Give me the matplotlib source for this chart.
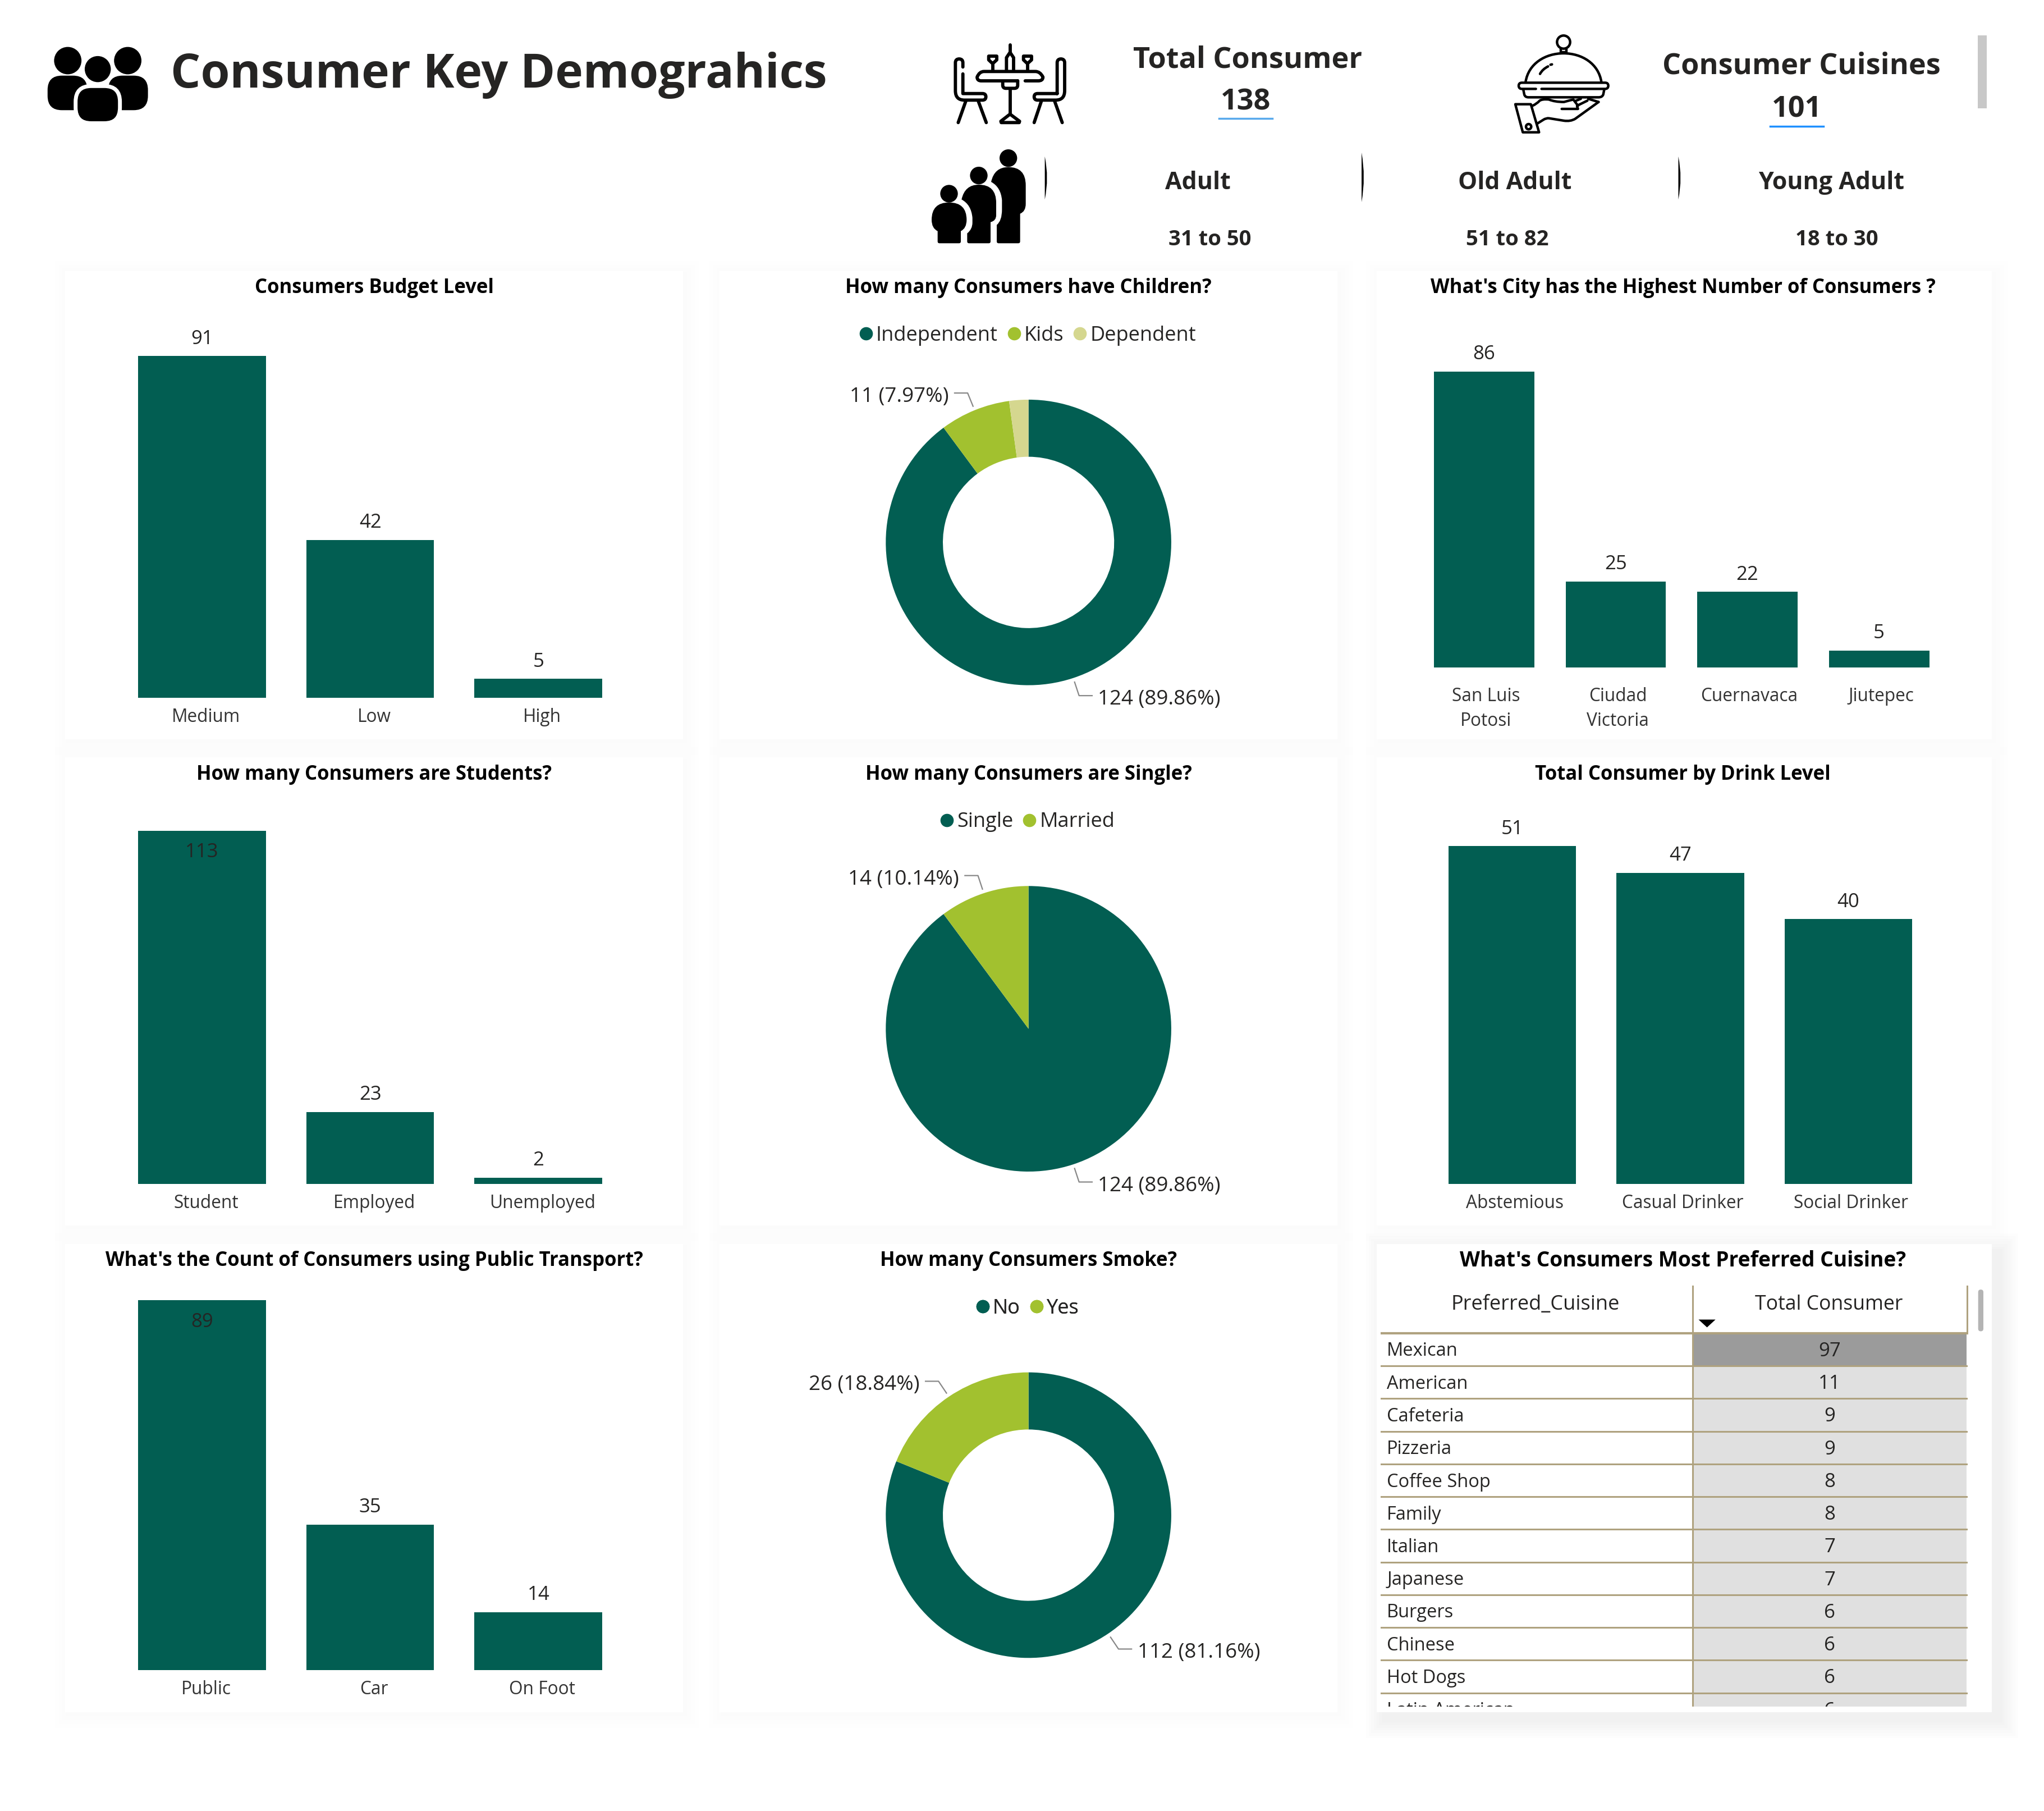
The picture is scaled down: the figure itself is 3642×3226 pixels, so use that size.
import matplotlib
matplotlib.use("Agg")
import matplotlib.pyplot as plt
import numpy as np
from matplotlib.lines import Line2D
from matplotlib.path import Path
from matplotlib.patches import Rectangle, Circle, FancyBboxPatch, Polygon, PathPatch

plt.rcParams['font.family'] = ['Open Sans', 'Noto Sans', 'DejaVu Sans']

# chart data
budget_cats = ["Medium", "Low", "High"]
budget_vals = [91, 42, 5]
student_cats = ["Student", "Employed", "Unemployed"]
student_vals = [113, 23, 2]
transport_cats = ["Public", "Car", "On Foot"]
transport_vals = [89, 35, 14]
city_cats = ["San Luis\nPotosi", "Ciudad\nVictoria", "Cuernavaca", "Jiutepec"]
city_vals = [86, 25, 22, 5]
drink_cats = ["Abstemious", "Casual Drinker", "Social Drinker"]
drink_vals = [51, 47, 40]
children_cats = ["Independent", "Kids", "Dependent"]
children_vals = [124, 11, 3]
single_cats = ["Single", "Married"]
single_vals = [124, 14]
smoke_cats = ["No", "Yes"]
smoke_vals = [112, 26]
cuisine_cats = ["Mexican", "American", "Cafeteria", "Pizzeria", "Coffee Shop", "Family",
                "Italian", "Japanese", "Burgers", "Chinese", "Hot Dogs", "Latin American"]
cuisine_vals = [97, 11, 9, 9, 8, 8, 7, 7, 6, 6, 6, 6]

TEAL = "#025E52"
LIME = "#A2C12F"
PALE = "#D5D78F"
DARK = "#252423"
TAN = "#AFA27F"

PX = 3642
PY = 3226
W = 1568.0  # layout units across the picture
H = W * PY / PX
fig = plt.figure(figsize=(PX / 100, PY / 100), dpi=100, facecolor="white")
bg = fig.add_axes([0, 0, 1, 1], zorder=0)
bg.set_xlim(0, W)
bg.set_ylim(H, 0)
bg.axis("off")


def place_axes(x0, y0, x1, y1, zorder=2):
    ax = fig.add_axes([x0 / W, 1 - y1 / H, (x1 - x0) / W, (y1 - y0) / H], zorder=zorder)
    ax.patch.set_alpha(0)
    return ax


def card(x0, y0, x1, y1, title, title_x=None, strong=False, title_size=25):
    # soft shadow first, then the white card on top
    off = 6 if strong else 2
    alpha = 0.008 if strong else 0.004
    pads = range(14, 0, -2) if strong else range(10, 0, -3)
    for pad in pads:
        bg.add_patch(Rectangle((x0 - pad + off, y0 - pad + off), x1 - x0 + 2 * pad, y1 - y0 + 2 * pad,
                               fc="black", ec="none", alpha=alpha))
    bg.add_patch(Rectangle((x0, y0), x1 - x0, y1 - y0, fc="white", ec="none"))
    cx = (x0 + x1) / 2 if title_x is None else title_x
    bg.text(cx, y0 + 13, title, ha="center", va="center", fontsize=title_size, fontweight="bold", color="black")


def bar_panel(cats, vals, first_center, step, bar_w, baseline, unit, top, tick_dx, tick_pad, inside=False):
    n = len(cats)
    ax = place_axes(first_center - step / 2, top, first_center + (n - 0.5) * step, baseline)
    x = np.arange(n)
    ax.bar(x, vals, width=bar_w / step, color=TEAL)
    ax.set_xlim(-0.5, n - 0.5)
    ax.set_ylim(0, (baseline - top) / unit)
    ax.set_yticks([])
    ax.set_xticks(x + tick_dx / step)
    ax.set_xticklabels(cats, fontsize=22.8, color="#333333", linespacing=1.45)
    ax.tick_params(axis="x", length=0, pad=tick_pad)
    for s in ax.spines.values():
        s.set_visible(False)
    for i, v in enumerate(vals):
        off = 22
        if inside and i == 0:
            off = -28
        ax.annotate(str(v), (i, v), xytext=(0, off), textcoords="offset points",
                    ha="center", va="center", fontsize=25, color="#252423", annotation_clip=False)
    return ax


def pie_panel(cats, vals, colors, cy, donut, labelled, legend_y):
    r = 109.5
    cx = 789
    lim = 1.5
    ax = place_axes(cx - lim * r, cy - lim * r, cx + lim * r, cy + lim * r)
    props = {"linewidth": 0}
    if donut:
        props["width"] = 0.4
    ax.pie(vals, colors=colors, startangle=90, counterclock=False, radius=1, wedgeprops=props)
    ax.set_xlim(-lim, lim)
    ax.set_ylim(-lim, lim)
    total = sum(vals)
    cum = np.cumsum(vals)
    for idx in labelled:
        end = cum[idx]
        mid = np.deg2rad((end - vals[idx] / 2) / total * 360)
        sx, sy = np.sin(mid), np.cos(mid)
        side = 1 if sx > 0 else -1
        ex, ey = 1.13 * sx, 1.13 * sy
        hx = ex + side * 10 / r
        ax.plot([1.03 * sx, ex, hx], [1.03 * sy, ey, ey], color="#888888", lw=1.6, clip_on=False)
        ax.text(hx + side * 4.5 / r, ey - 3 / r, f"{vals[idx]} ({vals[idx] / total * 100:.2f}%)",
                ha="left" if side > 0 else "right", va="center", fontsize=26.5, color="#252423")
    handles = [Line2D([0], [0], marker="o", ls="none", color=c, markersize=16, label=l)
               for c, l in zip(colors, cats)]
    leg = bg.legend(handles=handles, loc="center", bbox_to_anchor=(783, legend_y + 1.5), bbox_transform=bg.transData,
                    ncol=len(cats), frameon=False, fontsize=26, handletextpad=-0.5, columnspacing=-0.2,
                    labelcolor="#252423")
    bg.add_artist(leg)
    return ax


col_x = [(50, 524), (552, 1026), (1056, 1528)]
row_y = [(208, 567), (581, 940), (954, 1313)]

card(col_x[0][0], row_y[0][0], col_x[0][1], row_y[0][1], "Consumers Budget Level")
card(col_x[1][0], row_y[0][0], col_x[1][1], row_y[0][1], "How many Consumers have Children?")
card(col_x[2][0], row_y[0][0], col_x[2][1], row_y[0][1], "What's City has the Highest Number of Consumers ?", title_x=1291)
card(col_x[0][0], row_y[1][0], col_x[0][1], row_y[1][1], "How many Consumers are Students?")
card(col_x[1][0], row_y[1][0], col_x[1][1], row_y[1][1], "How many Consumers are Single?")
card(col_x[2][0], row_y[1][0], col_x[2][1], row_y[1][1], "Total Consumer by Drink Level", title_x=1291)
card(col_x[0][0], row_y[2][0], col_x[0][1], row_y[2][1], "What's the Count of Consumers using Public Transport?")
card(col_x[1][0], row_y[2][0], col_x[1][1], row_y[2][1], "How many Consumers Smoke?")
card(col_x[2][0], row_y[2][0], col_x[2][1], row_y[2][1], "What's Consumers Most Preferred Cuisine?",
     title_x=1291, strong=True, title_size=26.8)

bar_panel(budget_cats, budget_vals, 155, 129, 98, 535, 262 / 91, 240, 3, 13)
bar_panel(student_cats, student_vals, 155, 129, 98, 908, 271 / 113, 620, 3, 13, inside=True)
bar_panel(transport_cats, transport_vals, 155, 129, 98, 1281, 284 / 89, 985, 3, 13, inside=True)
bar_panel(city_cats, city_vals, 1138.5, 101, 77, 512, 227 / 86, 250, 1.5, 25)
bar_panel(drink_cats, drink_vals, 1160, 129, 98, 908, 259 / 51, 620, 2, 13)

pie_panel(children_cats, children_vals, [TEAL, LIME, PALE], 416, True, [0, 1], 256)
pie_panel(single_cats, single_vals, [TEAL, LIME], 789, False, [0, 1], 629)
pie_panel(smoke_cats, smoke_vals, [TEAL, LIME], 1162, True, [0, 1], 1002)

# cuisine table, drawn in layout units so the last row clips like the report
tab = place_axes(1059, 986, 1510, 1309)
tab.set_xlim(1059, 1510)
tab.set_ylim(1309, 986)
tab.axis("off")
row_h = 25.08
head_bottom = 1022.5
split = 1298.5
for i, (name, val) in enumerate(zip(cuisine_cats, cuisine_vals)):
    top = head_bottom + i * row_h
    shade = "#9B9B9B" if val == max(cuisine_vals) else "#E0E0E0"
    tab.add_patch(Rectangle((split, top), 1508.5 - split, row_h, fc=shade, ec="none"))
    tab.plot([1059, 1508.5], [top + row_h, top + row_h], color=TAN, lw=2.2)
    tab.text(1064, top + row_h / 2 + 1.2, name, ha="left", va="center", fontsize=23.5, color="#252423", clip_on=True)
    tab.text(1403.5, top + row_h / 2 + 1.2, str(val), ha="center", va="center", fontsize=25, color="#252423", clip_on=True)
tab.plot([1059, 1509], [head_bottom, head_bottom], color=TAN, lw=3)
tab.plot([split, split], [986, 1309], color=TAN, lw=2.2)
tab.plot([1509, 1509], [986, head_bottom], color=TAN, lw=2.2)
tab.text(1178, 1000.5, "Preferred_Cuisine", ha="center", va="center", fontsize=26, color="#252423")
tab.text(1403, 1000.5, "Total Consumer", ha="center", va="center", fontsize=25.7, color="#252423")
tab.add_patch(Polygon([[1303, 1012], [1316, 1012], [1309.5, 1018]], fc="black", ec="none"))
bg.add_patch(FancyBboxPatch((1517.5, 989), 4, 32, boxstyle="round,pad=0,rounding_size=2", fc="#B4B4B4", ec="none", zorder=3))

# header text
bg.text(131, 57.5, "Consumer Key Demograhics", ha="left", va="center", fontsize=60.5, fontweight="bold", color=DARK)
bg.text(957, 46, "Total Consumer", ha="center", va="center", fontsize=37.5, fontweight="bold", color=DARK)
bg.text(955.5, 78.5, "138", ha="center", va="center", fontsize=37.5, fontweight="bold", color=DARK)
bg.plot([935, 976], [91, 91], color="#58A9EC", lw=2.5)
bg.text(1382, 51, "Consumer Cuisines", ha="center", va="center", fontsize=37.5, fontweight="bold", color=DARK)
bg.text(1378.5, 84, "101", ha="center", va="center", fontsize=37.5, fontweight="bold", color=DARK)
bg.plot([1358, 1399], [97, 97], color="#1E90FF", lw=2.5)
bg.add_patch(Rectangle((1517, 27), 7, 56, fc="#C8C8C8", ec="none"))
for x, label, rng, rng_x in [(919, "Adult", "31 to 50", 928), (1162, "Old Adult", "51 to 82", 1156.5),
                             (1405, "Young Adult", "18 to 30", 1409)]:
    bg.text(x, 140, label, ha="center", va="center", fontsize=31, fontweight="bold", color=DARK)
    bg.text(rng_x, 184, rng, ha="center", va="center", fontsize=27.5, fontweight="bold", color=DARK)


def svg_path(d):
    # small parser for M/L/Q/C/Z strings
    verts, codes = [], []
    tok = d.split()
    i = 0
    n_pts = {"M": (1, Path.MOVETO), "L": (1, Path.LINETO), "Q": (2, Path.CURVE3), "C": (3, Path.CURVE4)}
    while i < len(tok):
        cmd = tok[i]
        i += 1
        if cmd == "Z":
            verts.append(verts[-1])
            codes.append(Path.CLOSEPOLY)
            continue
        cnt, code = n_pts[cmd]
        for _ in range(cnt):
            verts.append((float(tok[i]), float(tok[i + 1])))
            codes.append(code)
            i += 2
    return Path(verts, codes)


def icon_axes(px, py, pw, ph):
    # crop in reference pixels; inside it coordinates are 3 units per pixel
    sc = W / PX
    ax = place_axes(px * sc, py * sc, (px + pw) * sc, (py + ph) * sc, zorder=3)
    ax.set_xlim(0, pw * 3)
    ax.set_ylim(ph * 3, 0)
    ax.axis("off")
    return ax


def line(ax, d, lw=4.2):
    ax.add_patch(PathPatch(svg_path(d), fc="none", ec="black", lw=lw, capstyle="round", joinstyle="round"))


def solid(ax, d):
    ax.add_patch(PathPatch(svg_path(d), fc="black", ec="none"))


# separators between the age cards: thin lens shapes
for x, y0, y1 in [(801.5, 120, 153), (1044.5, 117, 155), (1287.5, 120, 153)]:
    bg.add_patch(PathPatch(svg_path(f"M {x} {y0} Q {x + 3.4} {(y0 + y1) / 2} {x} {y1} Z"), fc="black", ec="none"))


# title icon: three people
def person(cx, cy, r, x0, x1, y0, y1, rounding=10, edge=0):
    bg.add_patch(FancyBboxPatch((x0, y0), x1 - x0, y1 - y0, boxstyle=f"round,pad=0,rounding_size={rounding}",
                                fc="black", ec="white", lw=edge, zorder=3))
    bg.add_patch(Circle((cx, cy), r, fc="black", ec="white", lw=edge, zorder=3))


person(52, 46.5, 10.5, 36.5, 67, 58, 84.5, rounding=11)
person(98, 46.5, 10.5, 83, 113.5, 58, 84.5, rounding=11)
person(75, 53, 11.5, 58, 92, 66, 94.5, rounding=12, edge=5)

# family icon
fam = icon_axes(1640, 250, 240, 200)
for cx, cy in [(470, 95), (312, 188), (153, 285)]:
    fam.add_patch(Circle((cx, cy), 47, fc="black", ec="none"))
solid(fam, "M 378 222 Q 395 143 470 143 Q 563 143 563 240 L 563 340 Q 563 380 533 392 L 533 540 Q 533 550 523 550 "
           "L 418 550 Q 408 550 408 540 L 408 452 Q 436 430 436 370 L 436 320 Q 430 250 378 222 Z")
solid(fam, "M 220 316 Q 237 237 312 237 Q 405 237 405 334 L 405 400 Q 405 430 375 437 L 375 540 Q 375 550 365 550 "
           "L 260 550 Q 250 550 250 540 L 250 497 Q 278 475 278 440 L 278 414 Q 272 344 220 316 Z")
solid(fam, "M 60 425 Q 60 332 153 332 Q 247 332 247 425 Q 247 470 216 485 L 216 540 Q 216 550 206 550 "
           "L 102 550 Q 92 550 92 540 L 92 485 Q 60 470 60 425 Z")

# table and chairs icon
din = icon_axes(1680, 50, 260, 200)
line(din, "M 107 208 L 107 185 Q 107 165 87 165 Q 67 165 67 185 L 67 335 Q 67 385 115 385 L 212 385 "
          "Q 230 385 230 367 Q 230 350 212 350 L 107 350 L 107 245")
line(din, "M 611 350 L 611 185 Q 611 165 631 165 Q 651 165 651 185 L 651 335 Q 651 385 603 385 L 506 385 "
          "Q 488 385 488 367 Q 488 350 506 350 L 611 350")
for d in ["M 122 392 L 82 505", "M 190 392 L 232 505", "M 526 392 L 488 505", "M 598 392 L 638 505",
          "M 359 325 L 359 460", "M 266 190 L 266 232", "M 452 190 L 452 232", "M 359 90 L 359 130"]:
    line(din, d)
line(din, "M 440 282 L 510 282 Q 535 282 535 262 Q 520 232 495 232 L 220 232 Q 195 232 183 262 Q 183 282 205 282 L 400 282")
line(din, "M 320 285 L 320 305 Q 320 322 337 322 L 383 322 Q 400 322 400 305 L 400 282")
line(din, "M 359 460 L 310 498 L 312 505 L 408 505 L 410 498 Z")
line(din, "M 340 228 L 340 158 L 359 130 L 378 158 L 378 228")
line(din, "M 245 150 L 288 150 L 288 170 L 266 190 L 245 170 Z")
line(din, "M 431 150 L 474 150 L 474 170 L 452 190 L 431 170 Z")

# cloche on a hand icon
clo = icon_axes(2680, 40, 240, 220)
clo.add_patch(Circle((318, 105), 35, fc="none", ec="black", lw=3.2))
thin = 3.2
line(clo, "M 303 142 L 303 160 L 333 160 L 333 142", thin)
line(clo, "M 115 318 C 130 220 220 165 318 165 C 416 165 505 220 520 318", thin)
line(clo, "M 192 275 Q 205 250 235 235", thin)
line(clo, "M 248 226 L 256 224", thin)
line(clo, "M 170 355 L 95 355 Q 78 355 78 338 Q 78 322 95 322 L 540 322 Q 557 322 557 338 Q 557 355 540 355 L 200 355", thin)
line(clo, "M 103 360 L 108 385 Q 112 400 130 400 L 505 400 Q 525 400 530 385 L 535 360", thin)
line(clo, "M 60 437 L 143 437 L 187 587 L 100 587 Z", thin)
clo.add_patch(Circle((131, 557), 14, fc="none", ec="black", lw=3.2))
line(clo, "M 152 445 Q 175 435 190 418 Q 205 408 240 412 Q 270 425 320 425 Q 355 415 370 412 L 395 445", thin)
line(clo, "M 505 425 L 380 515 Q 355 530 320 525 L 240 512 Q 225 510 210 520 L 178 540", thin)
line(clo, "M 390 445 L 445 418", thin)
line(clo, "M 380 420 L 410 408", thin)
line(clo, "M 450 408 L 505 425", thin)
line(clo, "M 308 462 L 395 462 L 390 448", thin)

fig.savefig("out.png", dpi=100, facecolor="white")
